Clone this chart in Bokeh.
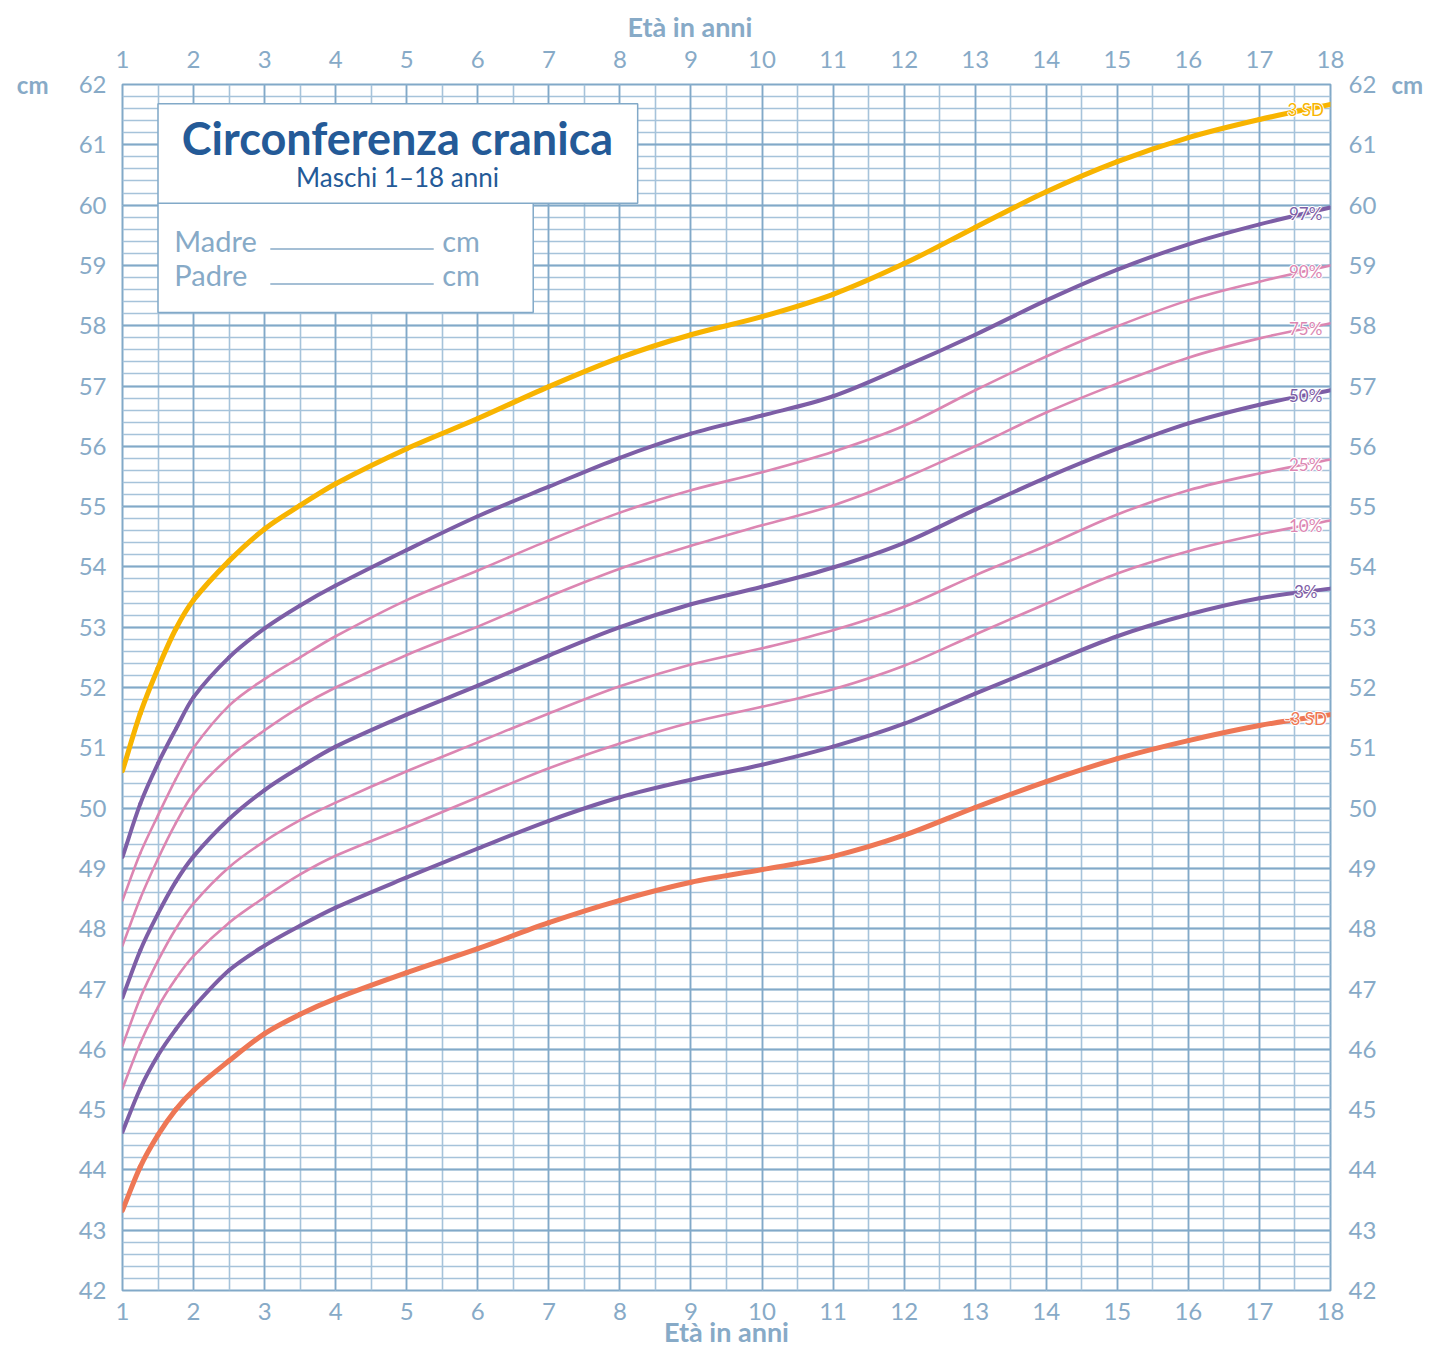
from bokeh.plotting import figure
from bokeh.models import LinearAxis, Range1d, FixedTicker, Label, Grid, Title
from bokeh.embed import file_html
from bokeh.resources import INLINE
import numpy as np

# ---------------- data ----------------
ages = [1, 1.25, 1.5, 1.75, 2, 2.5, 3, 3.5, 4, 5, 6, 7, 8, 9, 10, 11, 12, 13, 14, 15, 16, 17, 18]

sd_plus3 = [50.62, 51.57, 52.32, 52.97, 53.45, 54.10, 54.63, 55.02, 55.38, 55.96, 56.46, 56.99, 57.47,
            57.85, 58.15, 58.52, 59.03, 59.63, 60.22, 60.72, 61.12, 61.42, 61.67]
p97 = [49.19, 50.07, 50.74, 51.31, 51.84, 52.50, 52.98, 53.36, 53.69, 54.28, 54.84, 55.33, 55.81,
       56.21, 56.51, 56.83, 57.32, 57.85, 58.42, 58.93, 59.35, 59.68, 59.96]
p90 = [48.47, 49.25, 49.88, 50.48, 51.00, 51.70, 52.14, 52.50, 52.85, 53.45, 53.94, 54.44, 54.90,
       55.27, 55.57, 55.91, 56.34, 56.93, 57.49, 57.99, 58.42, 58.73, 59.00]
p75 = [47.72, 48.50, 49.16, 49.75, 50.24, 50.84, 51.29, 51.68, 52.00, 52.54, 53.01, 53.51, 53.97,
       54.35, 54.69, 55.02, 55.47, 56.00, 56.56, 57.04, 57.47, 57.79, 58.04]
p50 = [46.86, 47.64, 48.25, 48.78, 49.20, 49.82, 50.30, 50.68, 51.02, 51.55, 52.03, 52.53, 53.00,
       53.38, 53.67, 53.99, 54.40, 54.95, 55.48, 55.96, 56.38, 56.69, 56.93]
p25 = [46.06, 46.85, 47.47, 48.00, 48.42, 49.02, 49.45, 49.80, 50.09, 50.61, 51.09, 51.57, 52.02,
       52.38, 52.65, 52.95, 53.34, 53.86, 54.35, 54.87, 55.27, 55.55, 55.78]
p10 = [45.35, 46.10, 46.70, 47.17, 47.55, 48.10, 48.52, 48.90, 49.21, 49.69, 50.18, 50.66, 51.07,
       51.42, 51.68, 51.97, 52.36, 52.88, 53.39, 53.89, 54.26, 54.54, 54.77]
p3 = [44.63, 45.35, 45.90, 46.33, 46.70, 47.31, 47.72, 48.05, 48.35, 48.85, 49.33, 49.79, 50.18,
      50.47, 50.72, 51.02, 51.40, 51.90, 52.38, 52.85, 53.21, 53.48, 53.64]
sd_minus3 = [43.33, 44.05, 44.58, 45.00, 45.32, 45.81, 46.26, 46.58, 46.84, 47.27, 47.67, 48.10, 48.47,
             48.77, 48.98, 49.20, 49.55, 50.01, 50.44, 50.82, 51.12, 51.37, 51.55]

series_labels = ["3 SD", "97%", "90%", "75%", "50%", "25%", "10%", "3%", "-3 SD"]

x_ticks = list(range(1, 19))
y_ticks = list(range(42, 63))

title = "Circonferenza cranica"
subtitle = "Maschi 1–18 anni"
axis_title = "Età in anni"
unit = "cm"

# ---------------- style ----------------
YELLOW = "#f8b400"
PURPLE = "#7d5ea6"
PINK = "#dc86b2"
ORANGE = "#ee7755"
GRID_MINOR = "#a6c3da"
GRID_MAJOR = "#82a9c8"
TXT = "#87aac7"
TITLE_C = "#245a97"
FONT = "Lato"

series = [
    (sd_plus3, YELLOW, 5.0),
    (p97, PURPLE, 4.0),
    (p90, PINK, 2.6),
    (p75, PINK, 2.6),
    (p50, PURPLE, 4.0),
    (p25, PINK, 2.6),
    (p10, PINK, 2.6),
    (p3, PURPLE, 4.0),
    (sd_minus3, ORANGE, 5.0),
]

p = figure(width=1429, height=1350, x_range=Range1d(1, 18), y_range=Range1d(42, 62),
           output_backend="svg", toolbar_location=None,
           x_axis_location=None, y_axis_location=None,
           min_border_left=122, min_border_right=99, min_border_top=84, min_border_bottom=60)
p.outline_line_color = GRID_MAJOR
p.outline_line_width = 2
p.background_fill_color = "white"
p.border_fill_color = "white"

# grids
half_years = [1 + 0.5 * i for i in range(35)]
fifth_cm = [round(42 + 0.2 * i, 1) for i in range(101)]
p.add_layout(Grid(dimension=0, ticker=FixedTicker(ticks=half_years), grid_line_color=GRID_MINOR, grid_line_width=1.6))
p.add_layout(Grid(dimension=1, ticker=FixedTicker(ticks=fifth_cm), grid_line_color=GRID_MINOR, grid_line_width=1.6))
p.add_layout(Grid(dimension=0, ticker=FixedTicker(ticks=x_ticks), grid_line_color=GRID_MAJOR, grid_line_width=1.6))
p.add_layout(Grid(dimension=1, ticker=FixedTicker(ticks=y_ticks), grid_line_color=GRID_MAJOR, grid_line_width=1.8))


def make_axis(ticks, standoff, size="24px", overrides=None, bold=False):
    ax = LinearAxis(ticker=FixedTicker(ticks=ticks))
    ax.axis_line_color = None
    ax.major_tick_line_color = None
    ax.minor_tick_line_color = None
    ax.major_tick_out = 0
    ax.major_tick_in = 0
    ax.minor_tick_out = 0
    ax.minor_tick_in = 0
    ax.major_label_text_font = FONT
    ax.major_label_text_font_size = size
    ax.major_label_text_color = TXT
    ax.major_label_standoff = standoff
    if bold:
        ax.major_label_text_font_style = "bold"
    if overrides:
        ax.major_label_overrides = overrides
    return ax


p.add_layout(make_axis(y_ticks, 16), "left")
p.add_layout(make_axis([62], 27, overrides={62: unit}, bold=True), "left")
p.add_layout(make_axis(y_ticks, 18), "right")
p.add_layout(make_axis([62], 12, overrides={62: unit}, bold=True), "right")
p.add_layout(make_axis(x_ticks, 17), "above")
bottom = make_axis(x_ticks, 12)
bottom.axis_label = axis_title
bottom.axis_label_text_font = FONT
bottom.axis_label_text_font_size = "27px"
bottom.axis_label_text_font_style = "bold"
bottom.axis_label_text_color = TXT
bottom.axis_label_standoff = -8
p.add_layout(bottom, "below")
p.add_layout(Title(text=axis_title, align="left", offset=505, text_font=FONT, text_font_size="27px",
                   text_font_style="bold", text_color=TXT, standoff=10), "above")

# title boxes (drawn as glyphs beneath curves/texts)
p.quad(left=[1.5, 1.5], right=[6.78, 8.25], top=[60.03, 61.68], bottom=[58.22, 60.03],
       fill_color="white", line_color=GRID_MAJOR, line_width=1.5)

for ytxt in (59.27, 58.69):
    p.segment(x0=[3.08], y0=[ytxt], x1=[5.38], y1=[ytxt], line_color=TXT, line_width=1.5)


# curves: smooth cubic Hermite segments through the data points, drawn as Bezier glyphs
def hermite_bezier(xs, ys):
    xs = np.asarray(xs, float)
    ys = np.asarray(ys, float)
    n = len(xs)
    m = np.empty(n)
    m[0] = (ys[1] - ys[0]) / (xs[1] - xs[0])
    m[-1] = (ys[-1] - ys[-2]) / (xs[-1] - xs[-2])
    for i in range(1, n - 1):
        m[i] = (ys[i + 1] - ys[i - 1]) / (xs[i + 1] - xs[i - 1])
    h = xs[1:] - xs[:-1]
    return dict(x0=xs[:-1], y0=ys[:-1], x1=xs[1:], y1=ys[1:],
                cx0=xs[:-1] + h / 3, cy0=ys[:-1] + m[:-1] * h / 3,
                cx1=xs[1:] - h / 3, cy1=ys[1:] - m[1:] * h / 3)


for vals, col, w in series:
    p.bezier(**hermite_bezier(ages, vals), line_color=col, line_width=w, line_cap="round")

for (vals, col, w), lab in zip(series, series_labels):
    ly = float(np.interp(17.65, ages, vals))
    common = dict(x=17.65, y=ly, text=lab, text_align="center", text_baseline="middle",
                  text_font=FONT, text_font_size="17px")
    p.add_layout(Label(text_color="white", text_outline_color="white", **common))
    p.add_layout(Label(text_color=col, **common))

# box texts
p.add_layout(Label(x=4.87, y=61.12, text=title, text_align="center", text_baseline="middle",
                   text_font=FONT, text_font_size="45px", text_font_style="bold", text_color=TITLE_C))
p.add_layout(Label(x=4.87, y=60.46, text=subtitle, text_align="center", text_baseline="middle",
                   text_font=FONT, text_font_size="26px", text_color=TITLE_C))

for ytxt, word in ((59.41, "Madre"), (58.85, "Padre")):
    p.add_layout(Label(x=1.73, y=ytxt, text=word, text_align="left", text_baseline="middle",
                       text_font=FONT, text_font_size="29px", text_color=TXT))
    p.add_layout(Label(x=5.50, y=ytxt, text=unit, text_align="left", text_baseline="middle",
                       text_font=FONT, text_font_size="29px", text_color=TXT))

open("out.html", "w").write(file_html(p, INLINE))
